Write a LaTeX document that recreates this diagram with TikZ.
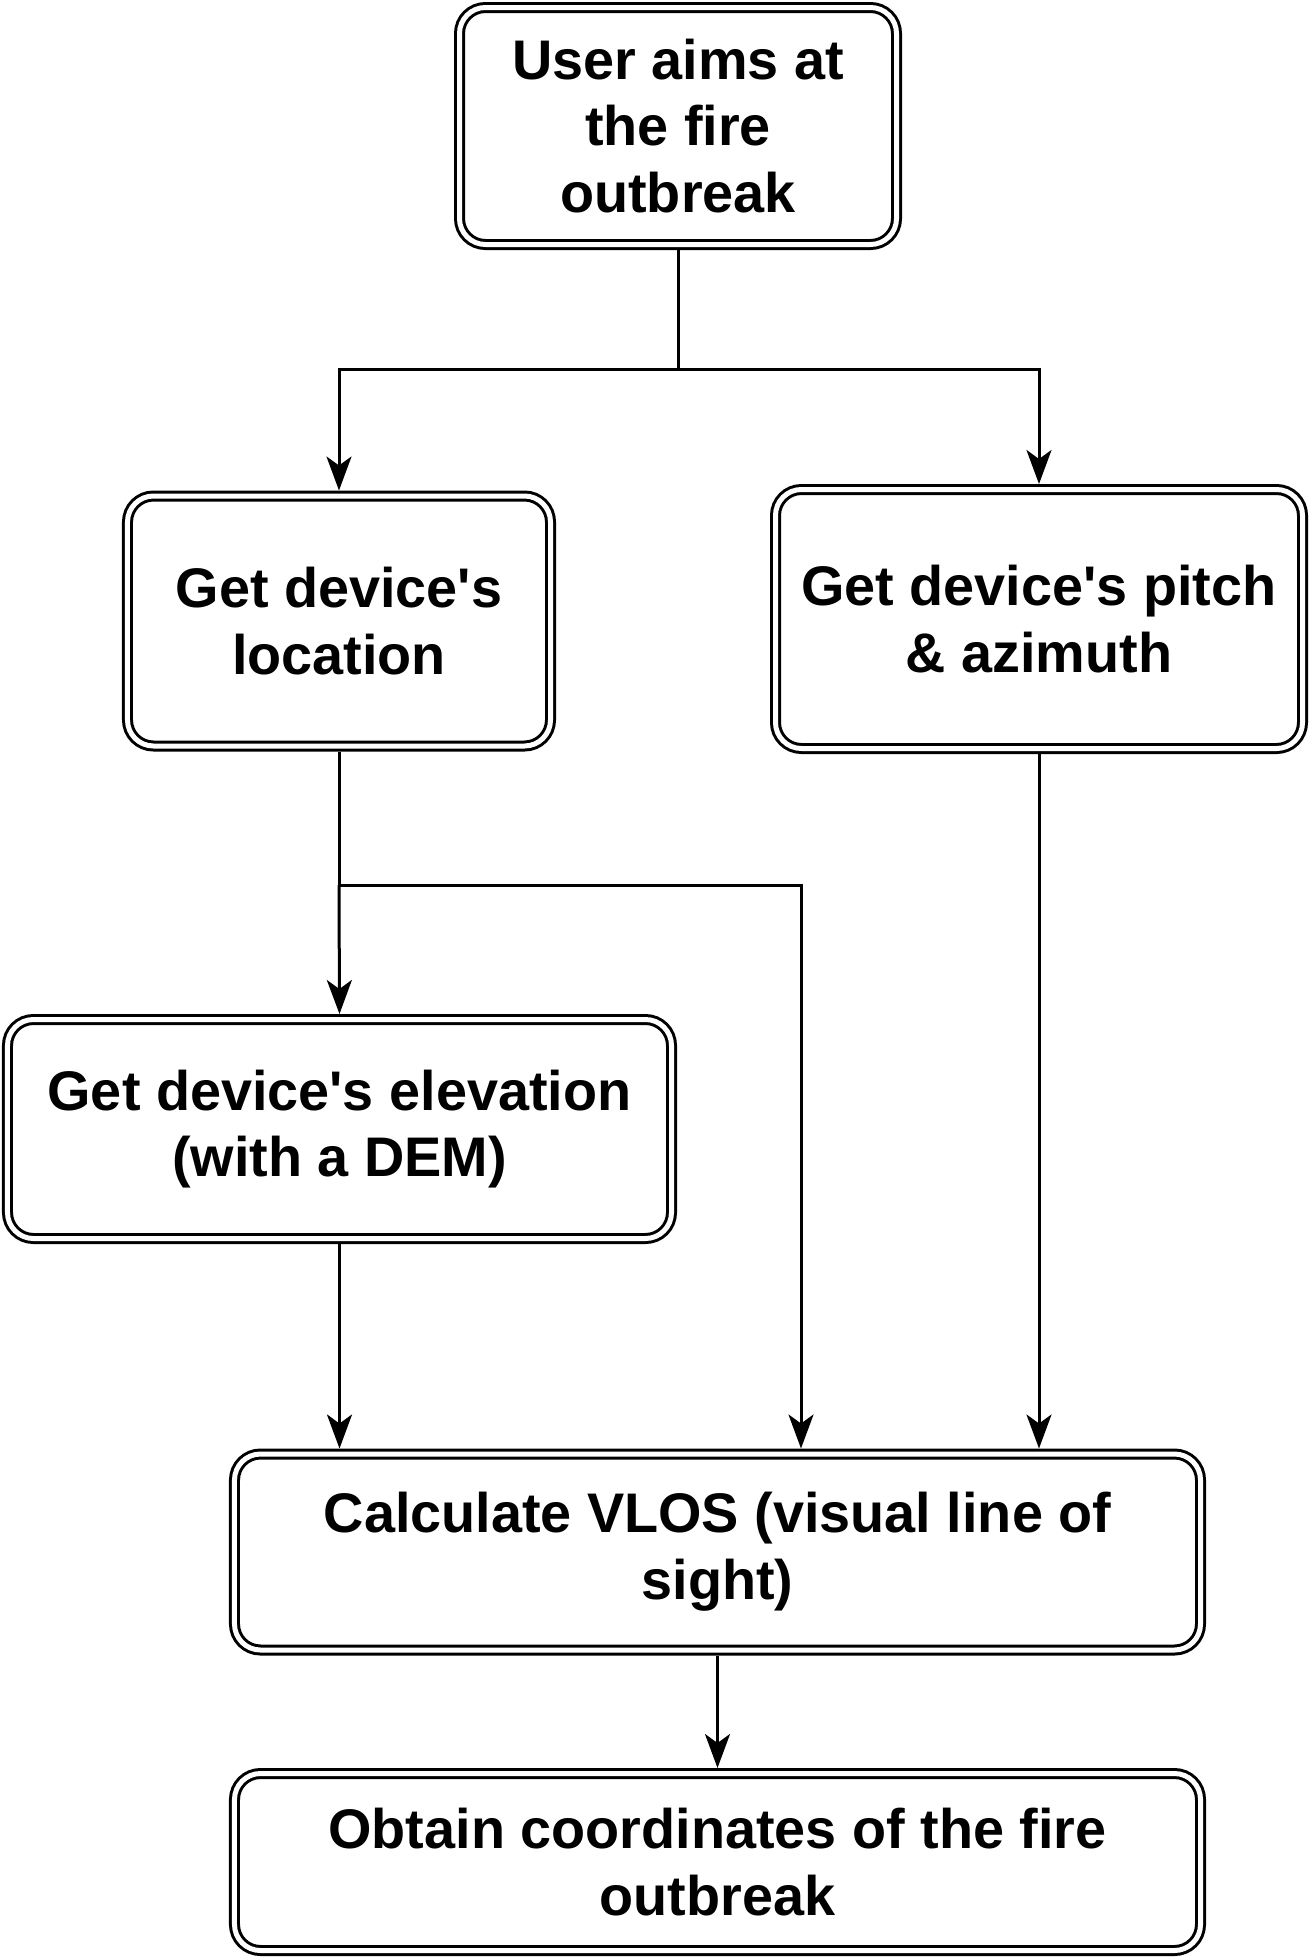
\documentclass[tikz,border=0pt]{standalone}
\usepackage{fontspec}
\setmainfont{Liberation Sans}
\usetikzlibrary{arrows.meta}
\newcommand{\apos}{\textquotesingle}
\begin{document}
\begin{tikzpicture}[x=1bp,y=-1bp,
  box/.style={draw, line width=3bp, double, double distance=5bp, rounded corners=26bp,
    outer sep=5.5bp, inner sep=0pt, align=center,
    font=\fontsize{56}{67}\selectfont\bfseries},
  arr/.style={line width=3bp, -{Stealth[length=34bp,width=25bp,inset=9bp]}},
  ln/.style={line width=3bp}]
\useasboundingbox (0,0) rectangle (1312,1960);
\node[box, minimum width=437bp, minimum height=237bp] (b1) at (678,126) {User aims at\\the fire\\outbreak};
\node[box, minimum width=423bp, minimum height=250bp] (b2) at (339,621) {Get device\apos s\\location};
\node[box, minimum width=527bp, minimum height=259bp] (b3) at (1039,619) {Get device\apos s pitch\\\& azimuth};
\node[box, minimum width=664bp, minimum height=219bp] (b4) at (339.5,1129) {Get device\apos s elevation\\(with a DEM)};
\node[box, minimum width=966bp, minimum height=196bp] (b5) at (717.5,1552) {Calculate VLOS (visual line of\\sight)};
\node[box, minimum width=966bp, minimum height=177bp] (b6) at (717.5,1862) {Obtain coordinates of the fire\\outbreak};
\coordinate (j1) at (678,369);
\coordinate (j2) at (339,885);
\coordinate (j3) at (801,885);
\draw[ln] (b1.south) -- (j1);
\draw[arr] (j1) -| (b2.north);
\draw[arr] (j1) -| (b3.north);
\draw[ln] (b2.south) -- (j2);
\draw[arr] (j2) -- (b4.north);
\draw[arr] (j2) -- (j3) -- (j3 |- b5.north);
\draw[arr] (b3.south) -- (b3.south |- b5.north);
\draw[arr] (b4.south) -- (b4.south |- b5.north);
\draw[arr] (b5.south) -- (b6.north);
\end{tikzpicture}
\end{document}
